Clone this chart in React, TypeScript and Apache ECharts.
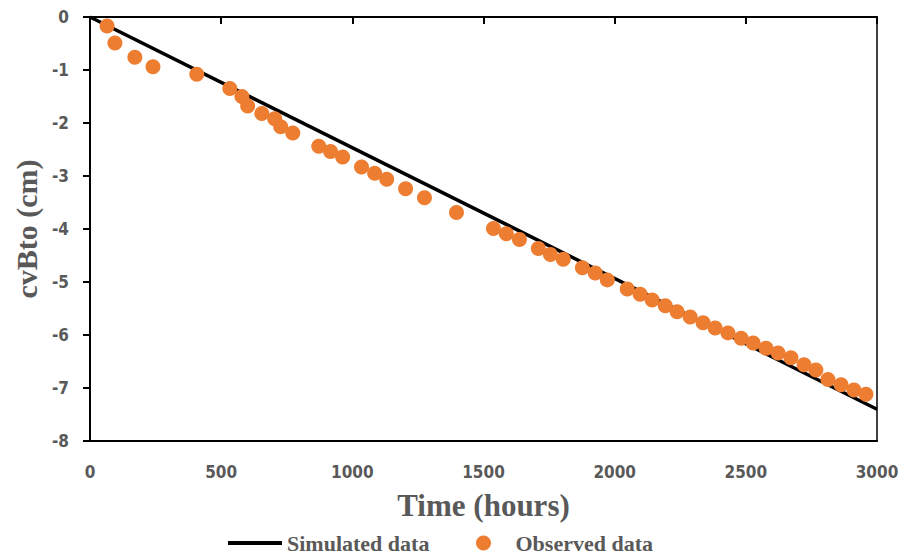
import { useEffect, useRef } from "react";
import * as echarts from "echarts";

const simTime = [0, 3000];
const simDepth = [0, -7.4];

const obsTime = [
  65, 95, 171, 240, 407, 533, 579, 601, 655, 704, 727, 773, 872, 917, 963, 1035,
  1085, 1131, 1203, 1275, 1397, 1538, 1587, 1637, 1709, 1755, 1804, 1877, 1926,
  1972, 2048, 2097, 2143, 2193, 2238, 2288, 2337, 2383, 2432, 2482, 2528, 2577,
  2623, 2672, 2722, 2767, 2813, 2863, 2912, 2958,
];
const obsDepth = [
  -0.17, -0.49, -0.76, -0.94, -1.08, -1.35, -1.5, -1.68, -1.82, -1.92, -2.07,
  -2.19, -2.44, -2.54, -2.64, -2.83, -2.95, -3.06, -3.24, -3.41, -3.69, -3.99,
  -4.09, -4.2, -4.37, -4.48, -4.57, -4.73, -4.83, -4.96, -5.13, -5.23, -5.34,
  -5.45, -5.56, -5.66, -5.77, -5.87, -5.96, -6.06, -6.15, -6.25, -6.34, -6.43,
  -6.56, -6.66, -6.84, -6.94, -7.04, -7.12,
];

const labelFont = "'Liberation Sans Narrow', 'DejaVu Sans Condensed', sans-serif";
const titleFont = "'Liberation Serif', 'DejaVu Serif', serif";
const grey = "#595959";

const legendText = {
  fontFamily: titleFont,
  fontWeight: "bold" as const,
  fontSize: 22,
  lineHeight: 22,
  color: grey,
};

const App = () => {
  const chartRef = useRef<HTMLDivElement>(null);

  useEffect(() => {
    if (!chartRef.current) return;
    const chart = echarts.init(chartRef.current, undefined, { renderer: "svg" });

    const option: echarts.EChartsOption = {
      animation: false,
      backgroundColor: "#fff",
      grid: { left: 90, right: 29, top: 17, bottom: 115 },
      legend: [
        {
          data: [{ name: "Simulated data", icon: "rect" }],
          left: 228,
          top: 532,
          padding: 0,
          itemWidth: 54,
          itemHeight: 4,
          textStyle: legendText,
        },
        {
          data: [{ name: "Observed data", icon: "circle" }],
          left: 476,
          top: 532,
          padding: 0,
          itemWidth: 54,
          itemHeight: 15,
          textStyle: legendText,
        },
      ],
      xAxis: [
        {
          type: "value",
          min: 0,
          max: 3000,
          interval: 500,
          position: "bottom",
          name: "Time (hours)",
          nameLocation: "middle",
          nameGap: 49,
          nameTextStyle: { fontFamily: titleFont, fontWeight: "bold", fontSize: 31, color: grey },
          axisLine: { show: true, onZero: false, lineStyle: { color: "#000", width: 2 } },
          axisTick: { show: false },
          axisLabel: {
            margin: 22,
            fontFamily: labelFont,
            fontWeight: "bold",
            fontSize: 17,
            color: grey,
            formatter: (v: number) => String(v),
          },
          splitLine: { show: false },
        },
        {
          type: "value",
          min: 0,
          max: 3000,
          interval: 500,
          position: "top",
          axisLine: { show: true, onZero: false, lineStyle: { color: "#000", width: 2 } },
          axisTick: { show: true, inside: true, length: 7, lineStyle: { color: "#000", width: 2 } },
          axisLabel: { show: false },
          splitLine: { show: false },
        },
      ],
      yAxis: [
        {
          type: "value",
          min: -8,
          max: 0,
          interval: 1,
          position: "left",
          name: "cvBto (cm)",
          nameLocation: "middle",
          nameGap: 46,
          nameTextStyle: { fontFamily: titleFont, fontWeight: "bold", fontSize: 30, color: grey },
          axisLine: { show: true, onZero: false, lineStyle: { color: "#000", width: 2 } },
          axisTick: { show: true, length: 7, lineStyle: { color: "#000", width: 2 } },
          axisLabel: { margin: 21, fontFamily: labelFont, fontWeight: "bold", fontSize: 17, color: grey },
          splitLine: { show: false },
        },
        {
          type: "value",
          min: -8,
          max: 0,
          interval: 1,
          position: "right",
          axisLine: { show: true, onZero: false, lineStyle: { color: "#000", width: 1.5 } },
          axisTick: { show: false },
          axisLabel: { show: false },
          splitLine: { show: false },
        },
      ],
      series: [
        {
          name: "Simulated data",
          type: "line",
          data: simTime.map((t, i) => [t, simDepth[i]]),
          symbol: "none",
          lineStyle: { color: "#000", width: 3.5 },
          itemStyle: { color: "#000" },
          z: 2,
        },
        {
          name: "Observed data",
          type: "scatter",
          data: obsTime.map((t, i) => [t, obsDepth[i]]),
          symbol: "circle",
          symbolSize: 15,
          itemStyle: { color: "#ED7D31", opacity: 1 },
          z: 3,
        },
      ],
    };

    chart.setOption(option);
    return () => {
      chart.dispose();
    };
  }, []);

  return (
    <div
      ref={chartRef}
      style={{ position: "absolute", left: 0, top: 0, width: 906, height: 556 }}
    />
  );
};

export default App;
